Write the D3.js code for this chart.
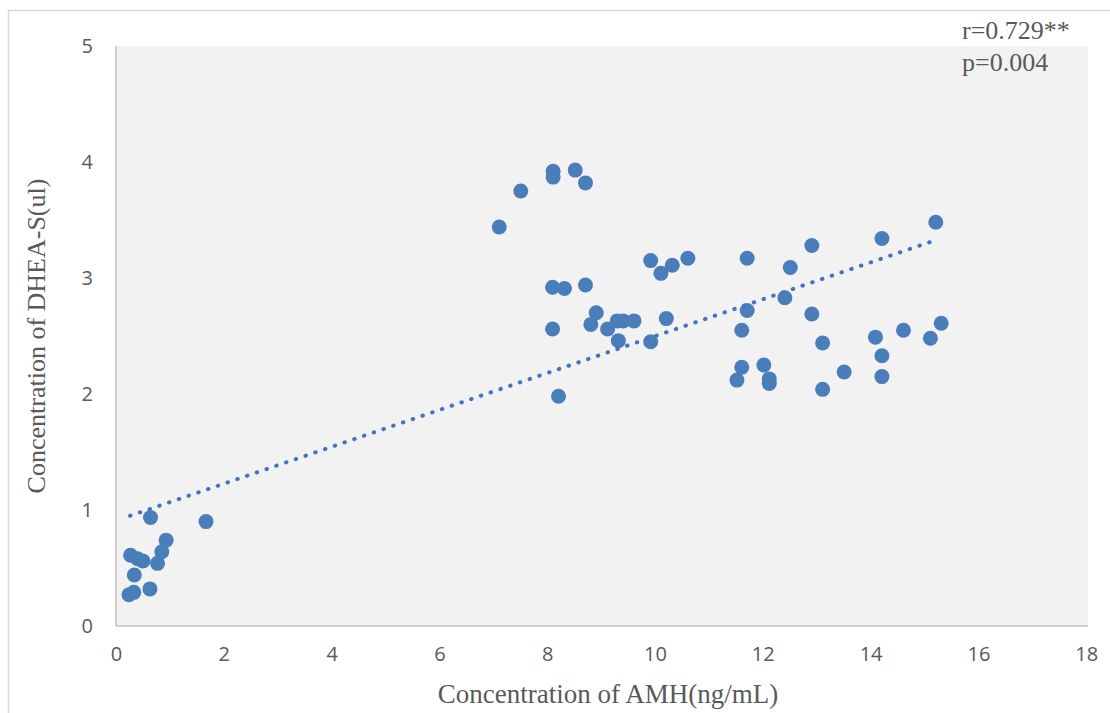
<!DOCTYPE html>
<html>
<head>
<meta charset="utf-8">
<script src="https://cdn.jsdelivr.net/npm/d3@7"></script>
<style>
  html, body { margin: 0; padding: 0; background: #fff; }
  svg { display: block; }
</style>
</head>
<body>
<svg id="chart" width="1110" height="713"></svg>
<script>
// AMH (ng/mL) vs DHEA-S measurements
const amh = [
  0.24, 0.33, 0.27, 0.40, 0.50, 0.34, 0.64, 0.63, 0.77, 0.85, 0.93, 1.67,
  7.11, 7.51, 8.11, 8.11, 8.52, 8.71,
  9.92, 10.32, 10.11, 10.61, 8.10, 8.32, 8.71, 8.91, 8.81, 9.12, 9.30, 9.41, 9.61,
  8.10, 9.32, 9.92, 10.21, 8.21,
  11.71, 12.91, 14.21, 15.21, 12.51, 12.41, 11.71, 11.61, 12.91, 13.11, 14.09,
  14.61, 15.11, 15.31, 14.21, 14.21, 13.51, 13.11, 11.61, 11.52, 12.02, 12.12, 12.12
];
const dheas = [
  0.27, 0.29, 0.61, 0.58, 0.56, 0.44, 0.935, 0.32, 0.54, 0.64, 0.74, 0.90,
  3.44, 3.75, 3.92, 3.87, 3.93, 3.82,
  3.15, 3.11, 3.04, 3.17, 2.92, 2.91, 2.94, 2.70, 2.60, 2.56, 2.63, 2.63, 2.63,
  2.56, 2.46, 2.45, 2.65, 1.98,
  3.17, 3.28, 3.34, 3.48, 3.09, 2.83, 2.72, 2.55, 2.69, 2.44, 2.49,
  2.55, 2.48, 2.61, 2.33, 2.15, 2.19, 2.04, 2.23, 2.12, 2.25, 2.13, 2.09
];
// linear trend line end points
const trendX = [0.26, 15.23];
const trendY = [0.95, 3.33];
const xTicks = [0, 2, 4, 6, 8, 10, 12, 14, 16, 18];
const yTicks = [0, 1, 2, 3, 4, 5];
const statLines = ["r=0.729**", "p=0.004"];

const svg = d3.select("#chart");
const W = 1110, H = 713;
const plot = { left: 116, top: 46, right: 1088, bottom: 626 };

// outer chart frame (extends past the window on the right and bottom)
svg.append("rect")
  .attr("x", 8.5).attr("y", 10.5)
  .attr("width", W + 20).attr("height", H + 20)
  .attr("fill", "#fff").attr("stroke", "#d9d9d9").attr("stroke-width", 1.5);

const x = d3.scaleLinear().domain([0, 18]).range([plot.left, plot.left + 18 * 53.9]);
const y = d3.scaleLinear().domain([0, 5]).range([plot.bottom, plot.top]);

// plot area background
svg.append("rect")
  .attr("x", plot.left).attr("y", plot.top)
  .attr("width", plot.right - plot.left).attr("height", plot.bottom - plot.top)
  .attr("fill", "#f2f2f2");

// axis lines
svg.append("line")
  .attr("x1", plot.left).attr("x2", plot.left)
  .attr("y1", plot.top).attr("y2", plot.bottom)
  .attr("stroke", "#bfbfbf").attr("stroke-width", 1.5);
svg.append("line")
  .attr("x1", plot.left).attr("x2", plot.right)
  .attr("y1", plot.bottom).attr("y2", plot.bottom)
  .attr("stroke", "#bfbfbf").attr("stroke-width", 1.5);

// tick labels
const tickFont = "'Open Sans', 'Liberation Sans', sans-serif";
const xAxis = d3.axisBottom(x).tickValues(xTicks).tickFormat(d3.format("d")).tickSize(0).tickPadding(21);
const gx = svg.append("g").attr("transform", `translate(0,${plot.bottom})`).call(xAxis);
gx.select(".domain").remove();
gx.selectAll("text").attr("font-family", tickFont).attr("font-size", 20).attr("fill", "#595959");

const yAxis = d3.axisLeft(y).tickValues(yTicks).tickFormat(d3.format("d")).tickSize(0).tickPadding(23);
const gy = svg.append("g").attr("transform", `translate(${plot.left},0)`).call(yAxis);
gy.select(".domain").remove();
gy.selectAll("text").attr("font-family", tickFont).attr("font-size", 20).attr("fill", "#595959");

// points
svg.append("g").selectAll("circle")
  .data(d3.range(amh.length))
  .join("circle")
  .attr("cx", i => x(amh[i]))
  .attr("cy", i => y(dheas[i]))
  .attr("r", 7.5)
  .attr("fill", "#4a7ebb");

// dotted trend line
svg.append("line")
  .attr("x1", x(trendX[0])).attr("y1", y(trendY[0]))
  .attr("x2", x(trendX[1])).attr("y2", y(trendY[1]))
  .attr("stroke", "#4472c4").attr("stroke-width", 4)
  .attr("stroke-linecap", "round").attr("stroke-dasharray", "0.5 9.8");

// axis titles
const serif = "'Liberation Serif', 'Times New Roman', serif";
svg.append("text")
  .attr("x", 608).attr("y", 703)
  .attr("text-anchor", "middle")
  .attr("font-family", serif).attr("font-size", 27).attr("fill", "#595959")
  .text("Concentration of AMH(ng/mL)");
svg.append("text")
  .attr("transform", `translate(45,${(plot.top + plot.bottom) / 2}) rotate(-90)`)
  .attr("text-anchor", "middle")
  .attr("font-family", serif).attr("font-size", 26).attr("fill", "#595959")
  .text("Concentration of DHEA-S(ul)");

// correlation annotation
svg.append("g").selectAll("text")
  .data(statLines)
  .join("text")
  .attr("x", 962).attr("y", (d, i) => 39 + i * 32)
  .attr("font-family", serif).attr("font-size", 26).attr("fill", "#595959")
  .text(d => d);
</script>
</body>
</html>
